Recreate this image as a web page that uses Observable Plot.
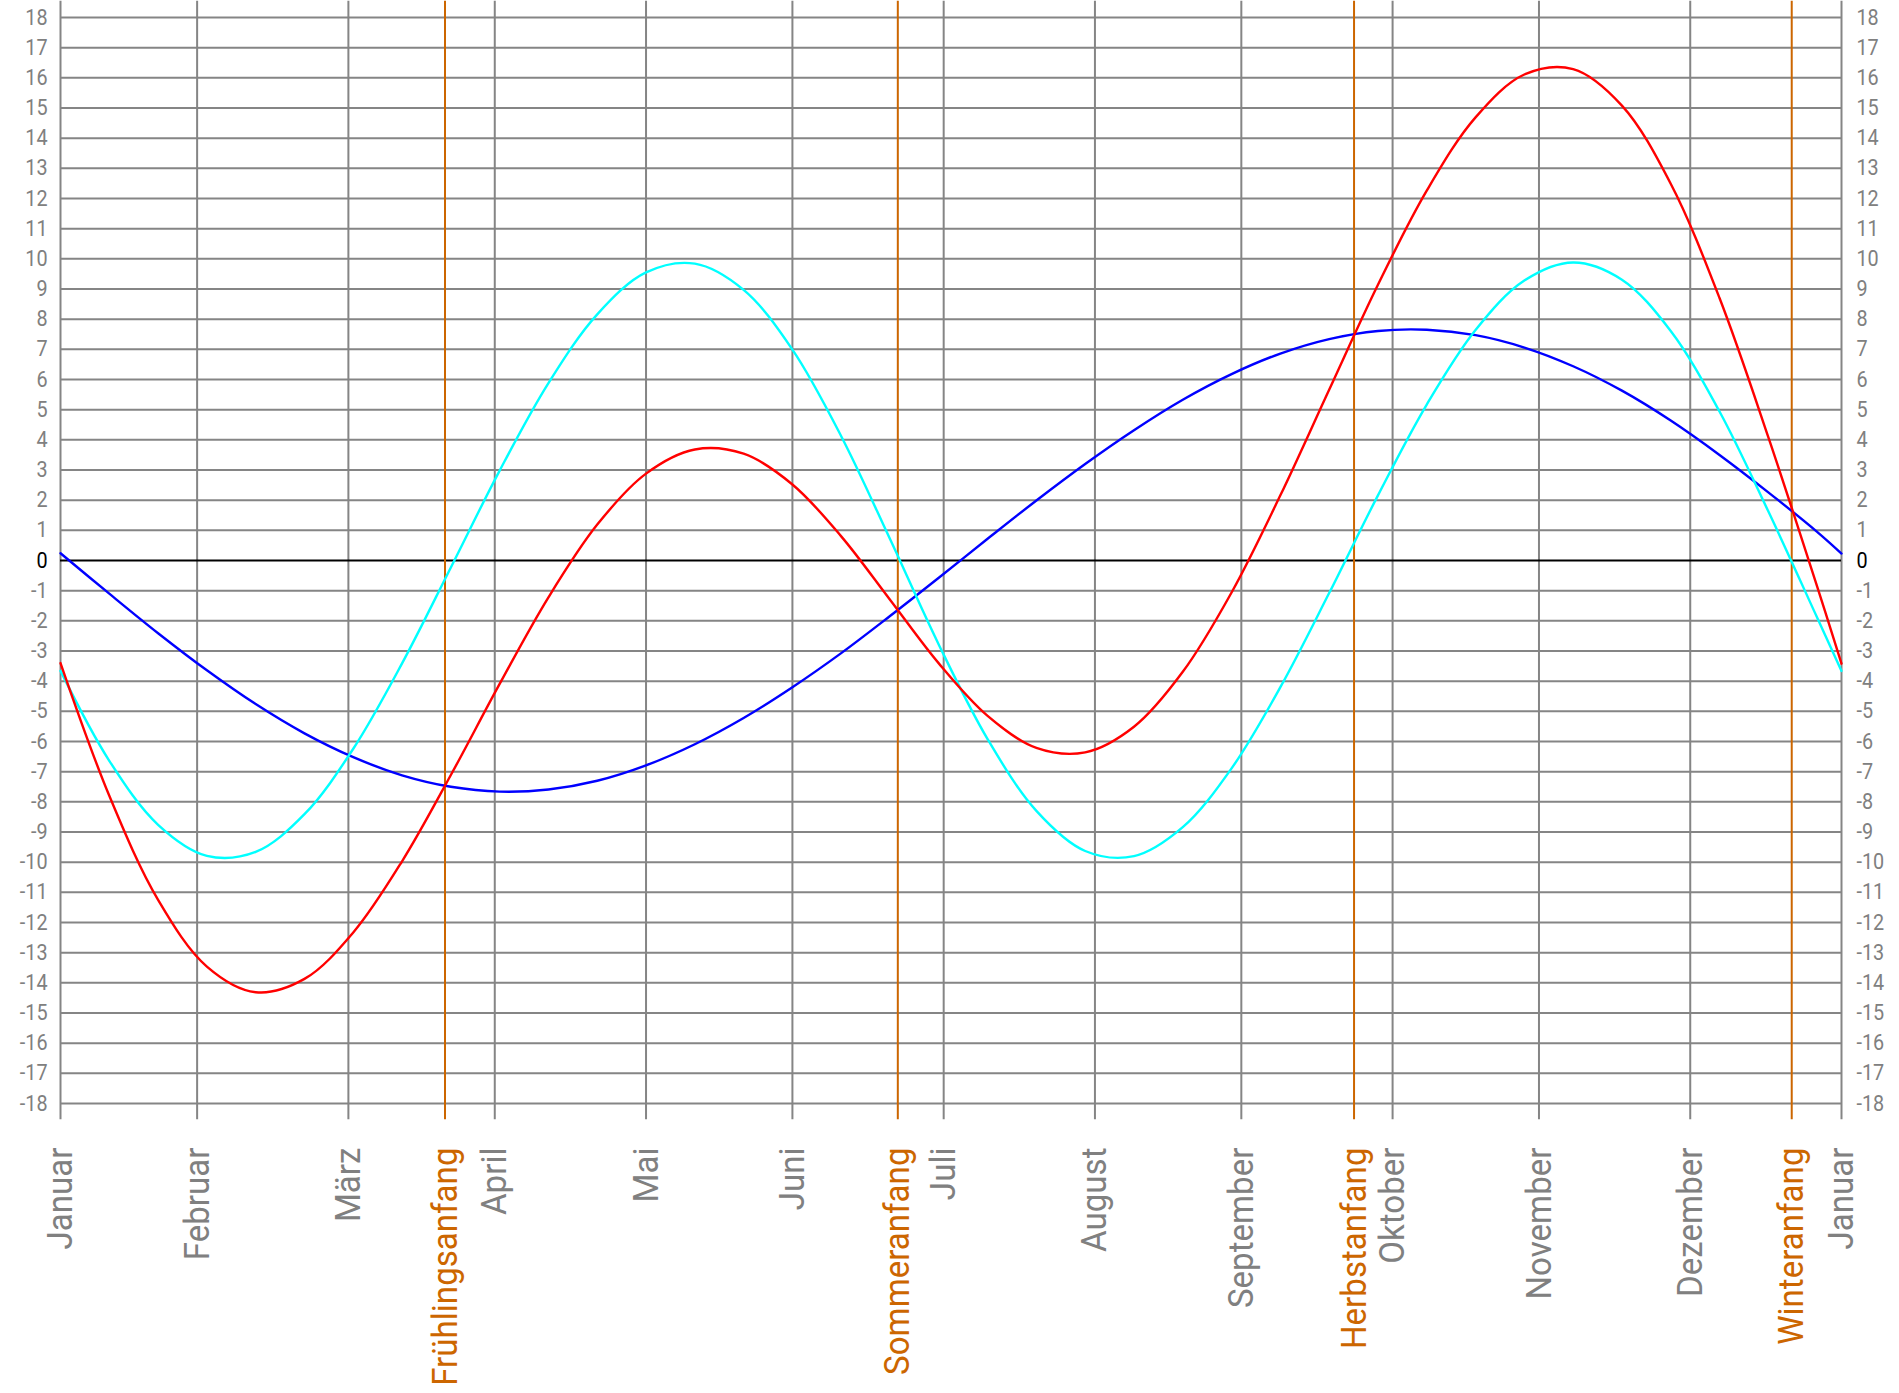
<!DOCTYPE html>
<html>
<head>
<meta charset="utf-8">
<script src="https://cdn.jsdelivr.net/npm/d3@7"></script>
<script src="https://cdn.jsdelivr.net/npm/@observablehq/plot@0.6"></script>
<style>
  html, body { margin: 0; padding: 0; background: #fff; }
  #chart svg { display: block; }
</style>
</head>
<body>
<div id="chart"></div>
<script>
// Day of year (0 = 1. Januar) at which values were read
const days = [0,10,20,30,40,50,60,70,80,90,100,110,120,130,140,150,160,170,180,190,200,210,220,230,240,250,260,270,280,290,300,310,320,330,340,350,360,365];
// Eccentricity component (minutes) – blue
const blueValues = [0.24,-1.10,-2.41,-3.64,-4.76,-5.73,-6.52,-7.12,-7.50,-7.66,-7.59,-7.30,-6.79,-6.09,-5.22,-4.20,-3.07,-1.84,-0.57,0.72,1.99,3.20,4.32,5.33,6.18,6.86,7.34,7.61,7.65,7.47,7.06,6.44,5.63,4.64,3.50,2.26,0.95,0.23];
// Obliquity component (minutes) – cyan
const cyanValues = [-3.66,-6.64,-8.76,-9.79,-9.66,-8.41,-6.24,-3.41,-0.23,2.98,5.88,8.16,9.55,9.84,8.97,6.99,4.12,0.71,-2.79,-5.92,-8.30,-9.63,-9.80,-8.84,-6.89,-4.20,-1.08,2.16,5.17,7.64,9.28,9.88,9.31,7.61,4.94,1.63,-1.89,-3.66];
// Equation of time (minutes) – red
const redValues = [-3.40,-7.80,-11.25,-13.46,-14.31,-13.87,-12.33,-9.97,-7.11,-4.09,-1.22,1.19,2.88,3.68,3.54,2.52,0.80,-1.30,-3.41,-5.15,-6.21,-6.36,-5.51,-3.69,-1.06,2.16,5.66,9.14,12.26,14.69,16.11,16.29,15.08,12.49,8.70,4.09,-0.86,-3.42];

// Month lines and labels
const monthDays = [0,28,59,89,120,150,181,212,242,273,303,334,365];
const monthLabels = ["Januar","Februar","März","April","Mai","Juni","Juli","August","September","Oktober","November","Dezember","Januar"];
// Season lines and labels
const seasonDays = [78.8,171.6,265.1,354.8];
const seasonLabels = ["Frühlingsanfang","Sommeranfang","Herbstanfang","Winteranfang"];
// Y ticks
const yTicks = d3.range(-18, 19);

const rows = days.map((d, i) => ({day: d, blue: blueValues[i], cyan: cyanValues[i], red: redValues[i]}));
const months = monthDays.map((d, i) => ({day: d, label: monthLabels[i]}));
const seasons = seasonDays.map((d, i) => ({day: d, label: seasonLabels[i]}));

const GRAY = "#858585";
const ORANGE = "#cc6600";
const FONT = "Roboto, 'DejaVu Sans', sans-serif";
const EXT = 18.54;

const chart = Plot.plot({
  width: 1899,
  height: 1393,
  marginLeft: 60,
  marginRight: 58,
  marginTop: 17,
  marginBottom: 290,
  style: {background: "#fff", fontFamily: FONT, overflow: "visible"},
  x: {domain: [0, 365], axis: null},
  y: {domain: [-18, 18], axis: null},
  marks: [
    Plot.ruleY(yTicks.filter(v => v !== 0), {y: d => d, x1: 0, x2: 365, stroke: GRAY, strokeWidth: 2}),
    Plot.ruleX(months, {x: "day", y1: -EXT, y2: EXT, stroke: GRAY, strokeWidth: 2}),
    Plot.ruleY([0], {y: d => d, x1: 0, x2: 365, stroke: "#000", strokeWidth: 2}),
    Plot.ruleX(seasons, {x: "day", y1: -EXT, y2: EXT, stroke: ORANGE, strokeWidth: 2}),
    Plot.line(rows, {x: "day", y: "blue", stroke: "#0000ff", strokeWidth: 2.4, curve: "catmull-rom"}),
    Plot.line(rows, {x: "day", y: "cyan", stroke: "#00ffff", strokeWidth: 2.4, curve: "catmull-rom"}),
    Plot.line(rows, {x: "day", y: "red", stroke: "#ff0000", strokeWidth: 2.4, curve: "catmull-rom"}),
    Plot.text(yTicks, {x: 0, y: d => d, dx: -13, text: d => String(d), textAnchor: "end",
      fill: d => d === 0 ? "#000000" : "#808080", fontSize: 22, fontFamily: FONT}),
    Plot.text(yTicks, {x: 365, y: d => d, dx: 15, text: d => String(d), textAnchor: "start",
      fill: d => d === 0 ? "#000000" : "#808080", fontSize: 22, fontFamily: FONT}),
    Plot.text(months, {x: "day", y: -18, dy: 44, text: "label", rotate: -90, textAnchor: "end",
      fill: "#808080", fontSize: 36, fontFamily: FONT}),
    Plot.text(seasons, {x: "day", y: -18, dy: 44, text: "label", rotate: -90, textAnchor: "end",
      fill: ORANGE, fontSize: 36, fontFamily: FONT})
  ]
});

// slightly condensed lettering like the reference
chart.querySelectorAll("text").forEach(t => {
  const tr = t.getAttribute("transform");
  if (tr) t.setAttribute("transform", tr + (tr.includes("rotate") ? " scale(0.92,1)" : " scale(0.9,1)"));
});

document.getElementById("chart").appendChild(chart);
</script>
</body>
</html>
